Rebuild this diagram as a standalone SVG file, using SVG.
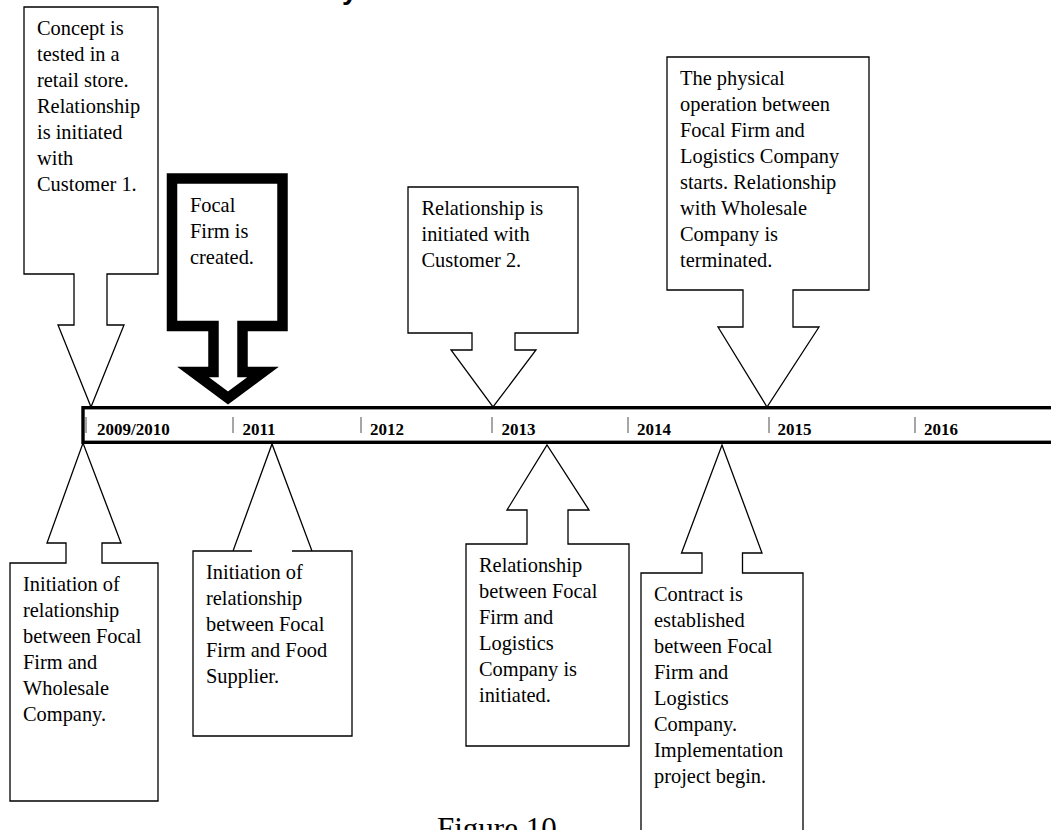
<svg xmlns="http://www.w3.org/2000/svg" width="1051" height="830" viewBox="0 0 1051 830">
<style>
.call{fill:#fff;stroke:#000;stroke-width:1.3;stroke-linejoin:miter}
.thick{fill:#fff;stroke:#000;stroke-width:10.5;stroke-linejoin:miter;stroke-miterlimit:10}
.t{font-family:"Liberation Serif","Times New Roman",serif;font-size:20.4px;fill:#000}
.yr{font-family:"Liberation Serif","Times New Roman",serif;font-size:17px;font-weight:bold;fill:#000}
.tick{stroke:#888;stroke-width:1.5}
</style>
<rect width="1051" height="830" fill="#fff"/>
<text x="342" y="-1" style="font-family:'Liberation Sans',Arial,sans-serif;font-size:28px;font-weight:bold">y</text>

<g id="timeline">
<rect x="83" y="407.7" width="1000" height="34.6" fill="#fff" stroke="#000" stroke-width="3.4"/>
<g class="tick">
<line x1="86" y1="417" x2="86" y2="433"/>
<line x1="233" y1="417" x2="233" y2="433"/>
<line x1="361" y1="417" x2="361" y2="433"/>
<line x1="492" y1="417" x2="492" y2="433"/>
<line x1="628" y1="417" x2="628" y2="433"/>
<line x1="769" y1="417" x2="769" y2="433"/>
<line x1="915" y1="417" x2="915" y2="433"/>
</g>
<text class="yr" x="97" y="435">2009/2010</text>
<text class="yr" x="242.5" y="435">2011</text>
<text class="yr" x="370" y="435">2012</text>
<text class="yr" x="501.5" y="435">2013</text>
<text class="yr" x="637" y="435">2014</text>
<text class="yr" x="777.5" y="435">2015</text>
<text class="yr" x="924" y="435">2016</text>
</g>

<g id="concept">
<path class="call" d="M24,7 H158 V274 H107 V325 H124 L91,407 L58,325 H74 V274 H24 Z"/>
<text class="t"><tspan x="37" y="35">Concept is</tspan><tspan x="37" y="61">tested in a</tspan><tspan x="37" y="87">retail store.</tspan><tspan x="37" y="113">Relationship</tspan><tspan x="37" y="139">is initiated</tspan><tspan x="37" y="165">with</tspan><tspan x="37" y="191">Customer 1.</tspan></text>
</g>

<g id="focal">
<path class="thick" d="M172,178.5 H282.5 V326 H242.5 V372 H263 L228,398 L193,372 H213.5 V326 H172 Z"/>
<text class="t"><tspan x="190" y="212">Focal</tspan><tspan x="190" y="238">Firm is</tspan><tspan x="190" y="264">created.</tspan></text>
</g>

<g id="customer2">
<path class="call" d="M408,187 H578 V333 H515 V350 H536 L493,407 L451,350 H472 V333 H408 Z"/>
<text class="t"><tspan x="421.5" y="215">Relationship is</tspan><tspan x="421.5" y="241">initiated with</tspan><tspan x="421.5" y="267">Customer 2.</tspan></text>
</g>

<g id="physical">
<path class="call" d="M667,57 H869 V290 H793 V327 H819 L767,407 L718,327 H743 V290 H667 Z"/>
<text class="t"><tspan x="680" y="85">The physical</tspan><tspan x="680" y="111">operation between</tspan><tspan x="680" y="137">Focal Firm and</tspan><tspan x="680" y="163">Logistics Company</tspan><tspan x="680" y="189">starts. Relationship</tspan><tspan x="680" y="215">with Wholesale</tspan><tspan x="680" y="241">Company is</tspan><tspan x="680" y="267">terminated.</tspan></text>
</g>

<g id="wholesale">
<path class="call" d="M10,563 H66 V543 H47 L83,443 L121,543 H102 V563 H158 V801 H10 Z"/>
<text class="t"><tspan x="23" y="591">Initiation of</tspan><tspan x="23" y="617">relationship</tspan><tspan x="23" y="643">between Focal</tspan><tspan x="23" y="669">Firm and</tspan><tspan x="23" y="695">Wholesale</tspan><tspan x="23" y="721">Company.</tspan></text>
</g>

<g id="food">
<path class="call" d="M193,551 H252 H233 L272,444 L312,551 H292 H352 V736 H193 Z"/>
<text class="t"><tspan x="206" y="579">Initiation of</tspan><tspan x="206" y="605">relationship</tspan><tspan x="206" y="631">between Focal</tspan><tspan x="206" y="657">Firm and Food</tspan><tspan x="206" y="683">Supplier.</tspan></text>
</g>

<g id="logistics">
<path class="call" d="M466,544 H527 V510 H507 L547,445 L589,510 H568 V544 H629 V746 H466 Z"/>
<text class="t"><tspan x="479" y="572">Relationship</tspan><tspan x="479" y="598">between Focal</tspan><tspan x="479" y="624">Firm and</tspan><tspan x="479" y="650">Logistics</tspan><tspan x="479" y="676">Company is</tspan><tspan x="479" y="702">initiated.</tspan></text>
</g>

<g id="contract">
<path class="call" d="M641,573 H702 V553 H681.5 L722,445 L762,553 H742.5 V573 H803 V845 H641 Z"/>
<text class="t"><tspan x="654" y="601">Contract is</tspan><tspan x="654" y="627">established</tspan><tspan x="654" y="653">between Focal</tspan><tspan x="654" y="679">Firm and</tspan><tspan x="654" y="705">Logistics</tspan><tspan x="654" y="731">Company.</tspan><tspan x="654" y="757">Implementation</tspan><tspan x="654" y="783">project begin.</tspan></text>
</g>

<text x="437" y="839" style="font-family:'Liberation Serif','Times New Roman',serif;font-size:31px">Figure 10</text>
</svg>
